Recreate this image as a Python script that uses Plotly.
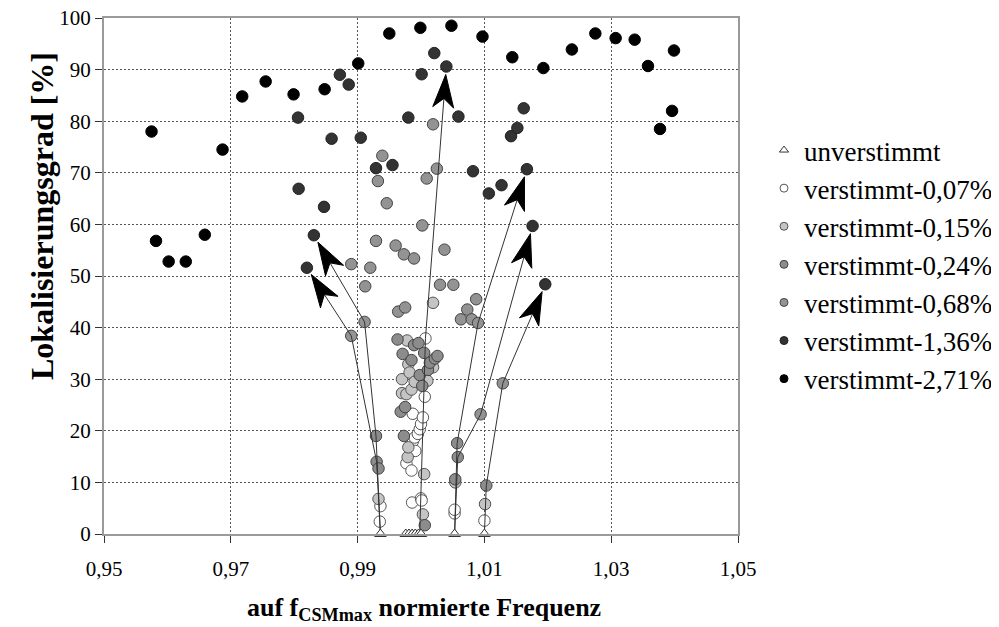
import math
import plotly.graph_objects as go

# ---- data ----
f_unv = [0.9936, 0.9976, 0.9981, 0.9986, 0.9991, 0.9996, 1.0000, 1.0053, 1.0100]
v_unv = [0, 0, 0, 0, 0, 0, 0, 0, 0]

f_007 = [0.9935, 0.9936, 0.9977, 0.9985, 0.9986, 0.9987, 0.9987, 0.9990, 0.9991, 0.9995,
         0.9998, 1.0000, 1.0000, 1.0001, 1.0003, 1.0006, 1.0007, 1.0053, 1.0053, 1.0100]
v_007 = [2.4, 5.4, 13.7, 12.3, 6.1, 23.3, 17.9, 18.7, 16.1, 19.4,
         20.3, 21.3, 6.9, 6.5, 22.6, 26.6, 37.9, 4.0, 4.7, 2.6]

f_015 = [0.9933, 0.9970, 0.9970, 0.9977, 0.9978, 0.9979, 0.9980, 0.9980, 0.9982, 0.9985,
         0.9990, 1.0003, 1.0005, 1.0006, 1.0010, 1.0019, 1.0019, 1.0054, 1.0101]
v_015 = [6.8, 27.3, 30.0, 27.1, 37.5, 14.9, 16.8, 32.9, 31.3, 28.0,
         29.5, 3.8, 11.6, 30.5, 29.7, 32.3, 44.8, 10.0, 5.8]

f_024 = [0.9929, 0.9930, 0.9933, 0.9963, 0.9968, 0.9971, 0.9973, 0.9975, 0.9985, 0.9989,
         0.9996, 0.9998, 1.0002, 1.0005, 1.0006, 1.0011, 1.0014, 1.0022, 1.0026, 1.0054,
         1.0057, 1.0058, 1.0103]
v_024 = [19.0, 14.0, 12.7, 37.7, 23.7, 34.9, 19.0, 24.6, 33.7, 36.6,
         37.0, 30.8, 28.7, 35.1, 1.7, 31.8, 33.2, 34.0, 34.5, 10.6,
         17.6, 14.9, 9.4]

f_068 = [0.9890, 0.9890, 0.9911, 0.9912, 0.9920, 0.9929, 0.9932, 0.9939, 0.9946, 0.9960,
         0.9964, 0.9973, 0.9975, 0.9989, 1.0002, 1.0009, 1.0019, 1.0025, 1.0030, 1.0037,
         1.0051, 1.0063, 1.0073, 1.0080, 1.0087, 1.0090, 1.0094, 1.0129]
v_068 = [38.4, 52.3, 41.1, 48.0, 51.6, 56.8, 68.4, 73.3, 64.1, 55.9,
         43.1, 54.2, 43.9, 53.4, 59.8, 68.9, 79.4, 70.8, 48.3, 55.1,
         48.3, 41.6, 43.5, 41.6, 45.5, 40.9, 23.2, 29.2]

f_136 = [0.9806, 0.9807, 0.9820, 0.9831, 0.9847, 0.9859, 0.9872, 0.9886, 0.9905, 0.9929,
         0.9955, 0.9980, 1.0001, 1.0021, 1.0040, 1.0059, 1.0082, 1.0107, 1.0127, 1.0142,
         1.0152, 1.0162, 1.0167, 1.0176, 1.0196]
v_136 = [80.7, 66.9, 51.6, 57.9, 63.4, 76.6, 89.0, 87.1, 76.8, 70.9,
         71.5, 80.7, 89.1, 93.2, 90.6, 80.9, 70.3, 66.0, 67.6, 77.1,
         78.7, 82.5, 70.7, 59.7, 48.4]

f_271 = [0.9575, 0.9582, 0.9602, 0.9629, 0.9659, 0.9687, 0.9718, 0.9755, 0.9799, 0.9848,
         0.9901, 0.9950, 0.9999, 1.0048, 1.0097, 1.0144, 1.0193, 1.0238, 1.0275, 1.0307,
         1.0337, 1.0358, 1.0377, 1.0396, 1.0399]
v_271 = [78.0, 56.8, 52.8, 52.8, 58.0, 74.5, 84.8, 87.7, 85.2, 86.2,
         91.2, 97.0, 98.1, 98.5, 96.4, 92.4, 90.3, 93.9, 97.0, 96.1,
         95.8, 90.7, 78.5, 82.0, 93.7]

# mode tracks drawn as arrows (from the untuned frequency upwards)
track1_f = [0.9936, 0.9929, 0.9911, 0.9831]
track1_v = [0, 19.0, 41.1, 57.9]
track2_f = [0.9936, 0.9930, 0.9890, 0.9820]
track2_v = [0, 14.0, 38.4, 51.6]
track3_f = [0.9998, 1.0007, 1.0040]
track3_v = [0, 37.9, 90.6]
track4_f = [1.0053, 1.0057, 1.0090, 1.0167]
track4_v = [0, 17.6, 40.9, 70.7]
track5_f = [1.0053, 1.0058, 1.0094, 1.0176]
track5_v = [0, 14.9, 23.2, 59.7]
track6_f = [1.0100, 1.0103, 1.0129, 1.0196]
track6_v = [0, 9.4, 29.2, 48.4]

x_ticks = [0.95, 0.97, 0.99, 1.01, 1.03, 1.05]
x_ticktext = ["0,95", "0,97", "0,99", "1,01", "1,03", "1,05"]
y_ticks = [0, 10, 20, 30, 40, 50, 60, 70, 80, 90, 100]

# ---- layout geometry (page body has an 8px margin) ----
OFF = 8
W, H = 999 - OFF, 627 - OFF
ML, MT = 104 - OFF, 18 - OFF
MR = W - (738 - OFF)
MB = H - (534 - OFF)
PW, PH = W - ML - MR, H - MT - MB
X0, X1 = 0.95, 1.05
Y0, Y1 = 0, 100
sx = PW / (X1 - X0)   # px per unit
sy = PH / (Y1 - Y0)


def paper_x(px):
    return (px - OFF - ML) / PW


def paper_y(py):
    return (H - MB - (py - OFF)) / PH


FONT = "Liberation Serif"

fig = go.Figure()

series = [
    ("verstimmt-0,07%", f_007, v_007, "#ffffff", "#555555"),
    ("verstimmt-0,15%", f_015, v_015, "#c4c4c4", "#555555"),
    ("verstimmt-0,24%", f_024, v_024, "#8c8c8c", "#444444"),
    ("verstimmt-0,68%", f_068, v_068, "#939393", "#444444"),
    ("verstimmt-1,36%", f_136, v_136, "#333333", "#222222"),
    ("verstimmt-2,71%", f_271, v_271, "#000000", "#000000"),
]

for name, fx, vy, col, edge in series:
    fig.add_trace(go.Scatter(
        x=fx, y=vy, mode="markers", showlegend=False,
        marker=dict(size=11.5, color=col, line=dict(color=edge, width=1)),
    ))

# mode tracks with arrow heads
tracks = [(track1_f, track1_v), (track2_f, track2_v), (track3_f, track3_v),
          (track4_f, track4_v), (track5_f, track5_v), (track6_f, track6_v)]

for tf, tv in tracks:
    f0, v0, f1, v1 = tf[-2], tv[-2], tf[-1], tv[-1]
    dx = (f1 - f0) * sx
    dy = (v1 - v0) * sy
    L = math.hypot(dx, dy)
    ux, uy = dx / L, dy / L
    nx, ny = -uy, ux
    back, length, half, notch = 8, 33, 10.5, 9
    tip = (f1 - back * ux / sx, v1 - back * uy / sy)
    base = (tip[0] - length * ux / sx, tip[1] - length * uy / sy)
    mid = (tip[0] - (length - notch) * ux / sx, tip[1] - (length - notch) * uy / sy)
    c1 = (base[0] + half * nx / sx, base[1] + half * ny / sy)
    c2 = (base[0] - half * nx / sx, base[1] - half * ny / sy)

    fig.add_trace(go.Scatter(
        x=tf[:-1] + [mid[0]], y=tv[:-1] + [mid[1]], mode="lines",
        line=dict(color="#333333", width=1), showlegend=False, cliponaxis=False,
    ))
    fig.add_trace(go.Scatter(
        x=[tip[0], c1[0], mid[0], c2[0], tip[0]],
        y=[tip[1], c1[1], mid[1], c2[1], tip[1]],
        mode="lines", fill="toself", fillcolor="#000000",
        line=dict(color="#000000", width=1), showlegend=False,
    ))

# untuned frequencies (open triangles on the axis)
fig.add_trace(go.Scatter(
    x=f_unv, y=v_unv, mode="markers", showlegend=False, cliponaxis=False,
    marker=dict(symbol="triangle-up", size=10, color="#ffffff",
                line=dict(color="#333333", width=1)),
))

# legend entries
fig.add_trace(go.Scatter(
    x=[None], y=[None], mode="markers", name="unverstimmt",
    marker=dict(symbol="triangle-up", size=8, color="#ffffff",
                line=dict(color="#333333", width=1)),
))
for name, fx, vy, col, edge in series:
    fig.add_trace(go.Scatter(
        x=[None], y=[None], mode="markers", name=name,
        marker=dict(size=8, color=col, line=dict(color=edge, width=1)),
    ))

axis_common = dict(
    showline=True, linecolor="#9a9a9a", linewidth=2, mirror=True,
    showgrid=True, gridcolor="#555555", gridwidth=1, griddash="2px,2px",
    ticks="outside", ticklen=7, tickcolor="#333333", tickwidth=1,
    tickfont=dict(family=FONT, size=21, color="#000000"),
    zeroline=False, ticklabeloverflow="allow",
)

fig.update_xaxes(range=[X0, X1], tickvals=x_ticks, ticktext=x_ticktext,
                 ticklabelstandoff=8, **axis_common)
fig.update_yaxes(range=[Y0, Y1], tickvals=y_ticks, **axis_common)

fig.add_annotation(
    text="<b>auf f<sub>CSMmax</sub> normierte Frequenz</b>",
    xref="paper", yref="paper", x=paper_x(424), y=paper_y(609),
    xanchor="center", yanchor="middle", showarrow=False,
    font=dict(family=FONT, size=26, color="#000000"),
)
fig.add_annotation(
    text="<b>Lokalisierungsgrad [%]</b>",
    xref="paper", yref="paper", x=paper_x(42), y=paper_y(216),
    xanchor="center", yanchor="middle", showarrow=False, textangle=-90,
    font=dict(family=FONT, size=32, color="#000000"),
)

fig.update_layout(
    width=W, height=H,
    margin=dict(l=ML, r=MR, t=MT, b=MB, autoexpand=False),
    paper_bgcolor="#ffffff", plot_bgcolor="#ffffff",
    font=dict(family=FONT, color="#000000"),
    legend=dict(
        x=paper_x(764), y=paper_y(126),
        xanchor="left", yanchor="top",
        font=dict(family=FONT, size=27, color="#000000"),
        bgcolor="rgba(0,0,0,0)", itemwidth=30,
    ),
)

fig.write_html("out.html")
